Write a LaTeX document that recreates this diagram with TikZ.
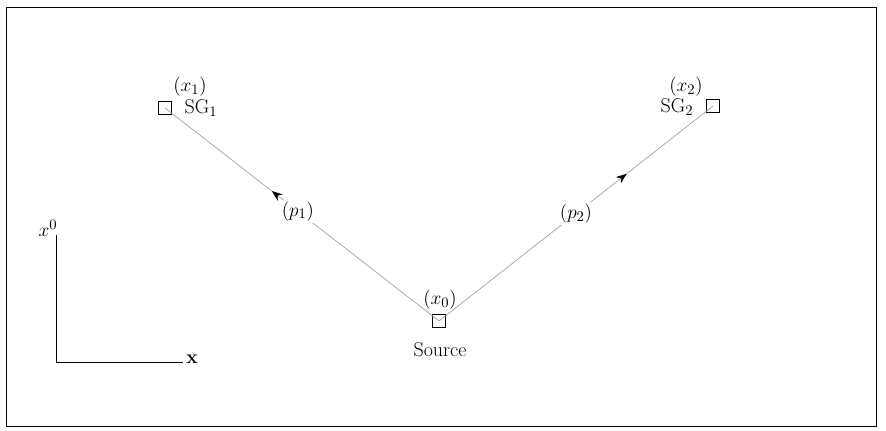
\documentclass[tikz,border=0pt]{standalone}
\usetikzlibrary{arrows.meta,decorations.markings}
\begin{document}
\begin{tikzpicture}[x=0.75pt,y=-0.75pt,
  every node/.style={font=\fontsize{15}{17}\selectfont, inner sep=0pt},
  sbox/.style={draw, line width=0.9pt, minimum size=10pt, inner sep=0pt},
  conn/.style={draw=gray!75, line width=0.5pt},
  plabel/.style={fill=white, inner sep=1.5pt},
  midarrow/.style={postaction={decorate, decoration={markings,
      mark=at position #1 with {\arrow[black]{Stealth[length=8pt,width=6pt]}}}}}
]
\useasboundingbox (0,0) rectangle (886,431);
\draw[line width=0.7pt] (6,7) rectangle (876,426);

% boxes
\node[sbox] (sg1box) at (165,108) {};
\node[sbox] (sg2box) at (713,106) {};
\node[sbox] (srcbox) at (439,321) {};

% labels
\node (x1) at (190,87) {$(x_1)$};
\node (sg1) at (201,108) {SG$_1$};
\node (x2) at (686,87) {$(x_2)$};
\node (sg2) at (677,107) {SG$_2$};
\node (x0) at (440,300) {$(x_0)$};
\node (src) at (440,350) {Source};

% connectors
\draw[conn, midarrow=0.61] (srcbox.center) -- node[plabel, pos=0.515] (p1) {$(p_1)$} (sg1box.center);
\draw[conn, midarrow=0.685] (srcbox.center) -- node[plabel, pos=0.5] (p2) {$(p_2)$} (sg2box.center);

% axes
\coordinate (ytop) at (56,235);
\coordinate (orig) at (56,362);
\coordinate (xend) at (183,362);
\draw[line width=0.7pt] (ytop) -- (orig) -- (xend);
\node (x0ax) at (48,228) {$x^0$};
\node[anchor=base west] (xax) at (186,363) {$\mathbf{x}$};
\end{tikzpicture}
\end{document}
